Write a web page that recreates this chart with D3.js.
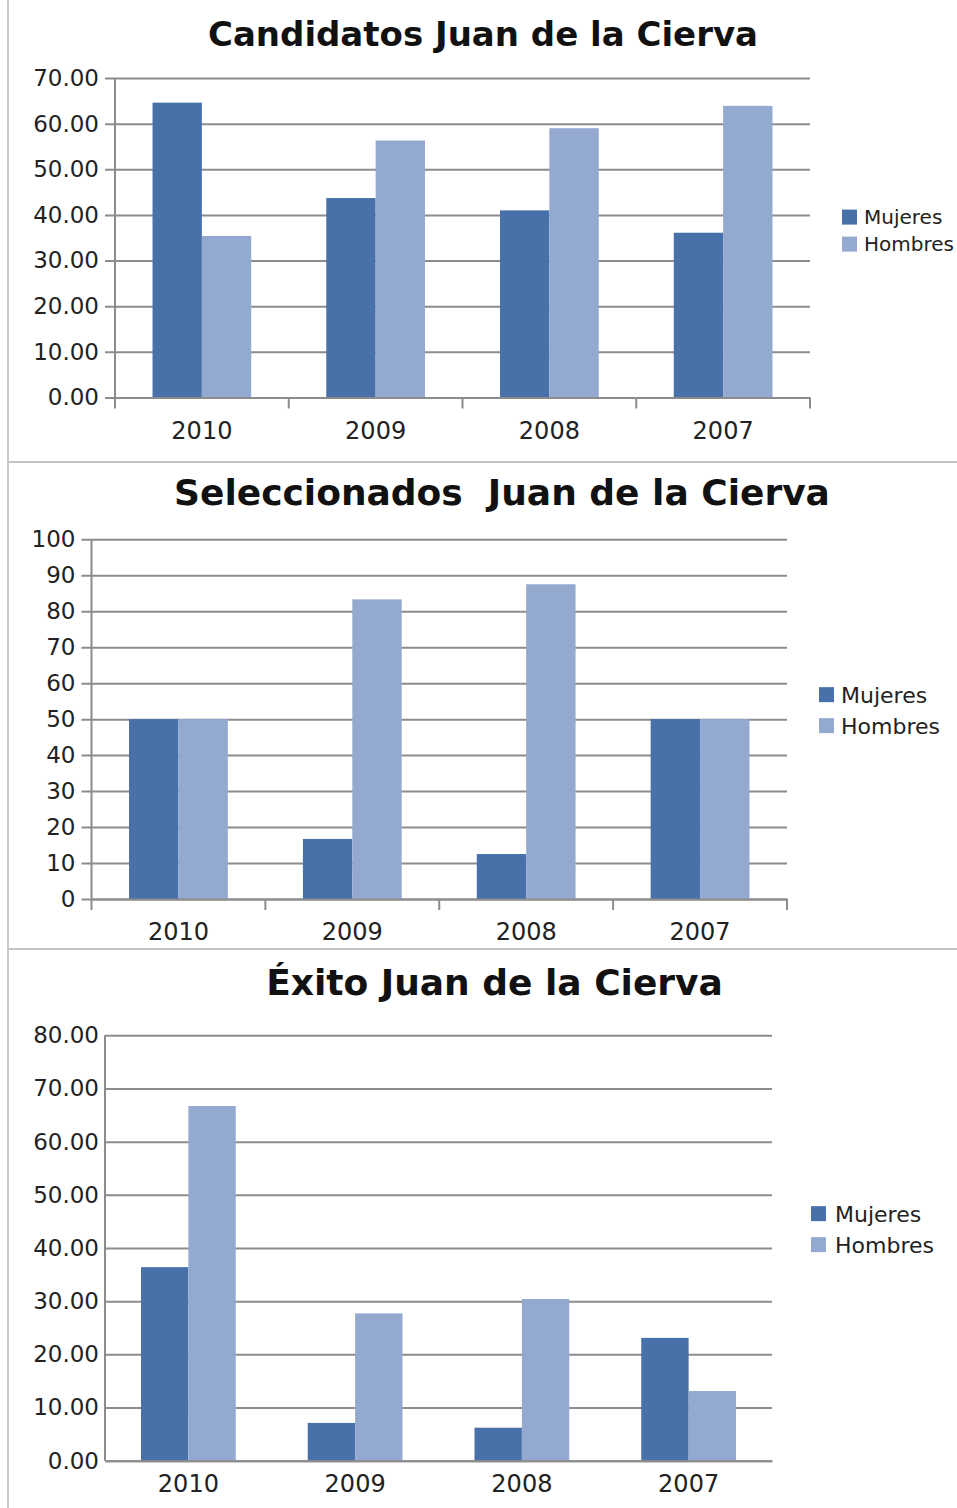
<!DOCTYPE html>
<html>
<head>
<meta charset="utf-8">
<script src="https://cdn.jsdelivr.net/npm/d3@7"></script>
<style>
  body { margin: 0; background: #fff; }
  svg { display: block; font-family: "DejaVu Sans", sans-serif; }
</style>
</head>
<body>
<svg id="viz" width="957" height="1508"></svg>
<script>
// datos
var years = ["2010", "2009", "2008", "2007"];
var series = ["Mujeres", "Hombres"];

var candMujeres = [64.6, 43.7, 41.0, 36.1];
var candHombres = [35.4, 56.3, 59.0, 63.9];

var selMujeres = [50, 16.7, 12.5, 50];
var selHombres = [50, 83.3, 87.5, 50];

var exitoMujeres = [36.4, 7.1, 6.2, 23.1];
var exitoHombres = [66.7, 27.7, 30.4, 13.1];

var candTicks = [0, 10, 20, 30, 40, 50, 60, 70];
var selTicks = [0, 10, 20, 30, 40, 50, 60, 70, 80, 90, 100];
var exitoTicks = [0, 10, 20, 30, 40, 50, 60, 70, 80];

var colors = ["#4771a8", "#93a9cf"];

var svg = d3.select("#viz");

// marco: linea izquierda y separadores
svg.append("line").attr("x1", 8).attr("x2", 8).attr("y1", 0).attr("y2", 1508)
  .attr("stroke", "#c8c8c8").attr("stroke-width", 2);
[462, 949].forEach(function(yy) {
  svg.append("line").attr("x1", 8).attr("x2", 957).attr("y1", yy).attr("y2", yy)
    .attr("stroke", "#c4c4c4").attr("stroke-width", 2);
});

function drawChart(c) {
  var w = c.right - c.left;
  var g = svg.append("g").attr("transform", "translate(" + c.left + ",0)");

  var x0 = d3.scaleBand().domain(years).range([0, w]).padding(0);
  var x1 = d3.scaleBand().domain(series).range([0, x0.bandwidth()])
    .paddingInner(0).paddingOuter(0.76);
  var y = d3.scaleLinear().domain([0, d3.max(c.ticks)]).range([c.bottom, c.top]);

  // titulo
  svg.append("text")
    .attr("x", c.titleX).attr("y", c.titleY)
    .attr("text-anchor", "middle")
    .attr("font-weight", "bold")
    .attr("font-size", c.titleFont)
    .attr("fill", "#111")
    .text(c.title);

  // eje y con lineas de cuadricula
  var yAxis = g.append("g")
    .call(d3.axisLeft(y).tickValues(c.ticks).tickFormat(d3.format(c.fmt)).tickSize(-w).tickPadding(c.tickLen + 6));
  yAxis.select(".domain").remove();
  yAxis.selectAll(".tick line")
    .attr("x1", -c.tickLen).attr("x2", w)
    .attr("stroke", "#8c8c8c").attr("stroke-width", 2);
  yAxis.selectAll(".tick text")
    .attr("font-size", 23).attr("fill", "#222")
    .attr("font-family", "DejaVu Sans");

  g.append("line").attr("x1", 0).attr("x2", 0).attr("y1", c.top).attr("y2", c.bottom)
    .attr("stroke", "#8c8c8c").attr("stroke-width", 2);

  // barras
  var groups = g.selectAll(".grupo")
    .data(years)
    .enter().append("g")
    .attr("transform", function(d) { return "translate(" + x0(d) + ",0)"; });
  groups.selectAll("rect")
    .data(function(d, i) { return [c.m[i], c.h[i]].map(function(v, k) { return {s: series[k], v: v}; }); })
    .enter().append("rect")
    .attr("x", function(d) { return x1(d.s); })
    .attr("y", function(d) { return y(d.v); })
    .attr("width", x1.bandwidth())
    .attr("height", function(d) { return c.bottom - y(d.v); })
    .attr("fill", function(d, k) { return colors[k]; });

  // eje x
  var xAxis = g.append("g")
    .attr("transform", "translate(0," + c.bottom + ")")
    .call(d3.axisBottom(x0).tickSize(0).tickPadding(0));
  xAxis.select(".domain").attr("stroke", "#8c8c8c").attr("stroke-width", 2);
  xAxis.selectAll(".tick text")
    .attr("y", c.labelDy).attr("dy", 0)
    .attr("font-size", 24).attr("fill", "#222")
    .attr("font-family", "DejaVu Sans");
  if (c.catTicks) {
    var bounds = years.map(function(d) { return x0(d); }).concat([w]);
    g.selectAll(".bound")
      .data(bounds)
      .enter().append("line")
      .attr("x1", function(d) { return d; }).attr("x2", function(d) { return d; })
      .attr("y1", c.bottom).attr("y2", c.bottom + 11)
      .attr("stroke", "#8c8c8c").attr("stroke-width", 2);
  }

  // leyenda
  var legend = svg.append("g")
    .selectAll("g")
    .data(series)
    .enter().append("g")
    .attr("transform", function(d, i) { return "translate(" + c.legX + "," + (c.legY + i * c.legStep) + ")"; });
  legend.append("rect")
    .attr("x", 0).attr("y", -c.legFont * 0.72)
    .attr("width", 15).attr("height", 15)
    .attr("fill", function(d, i) { return colors[i]; });
  legend.append("text")
    .attr("x", c.legTextDx).attr("y", 0)
    .attr("font-size", c.legFont).attr("fill", "#222")
    .text(function(d) { return d; });
}

drawChart({
  title: "Candidatos Juan de la Cierva", titleX: 483, titleY: 46, titleFont: 34,
  left: 115, right: 810, top: 78, bottom: 397.5,
  ticks: candTicks, fmt: ".2f", m: candMujeres, h: candHombres,
  tickLen: 10, catTicks: true, labelDy: 41,
  legX: 842, legY: 224, legStep: 27, legFont: 20, legTextDx: 22
});

drawChart({
  title: "Seleccionados\u00a0\u00a0Juan de la Cierva", titleX: 502, titleY: 505, titleFont: 36,
  left: 91.5, right: 787, top: 539.3, bottom: 899,
  ticks: selTicks, fmt: "d", m: selMujeres, h: selHombres,
  tickLen: 10, catTicks: true, labelDy: 41,
  legX: 819, legY: 703, legStep: 31, legFont: 22, legTextDx: 22
});

drawChart({
  title: "\u00c9xito Juan de la Cierva", titleX: 494.5, titleY: 995, titleFont: 36,
  left: 105, right: 772, top: 1035.3, bottom: 1460.7,
  ticks: exitoTicks, fmt: ".2f", m: exitoMujeres, h: exitoHombres,
  tickLen: 0, catTicks: false, labelDy: 31,
  legX: 811, legY: 1222, legStep: 31, legFont: 22, legTextDx: 24
});
</script>
</body>
</html>
